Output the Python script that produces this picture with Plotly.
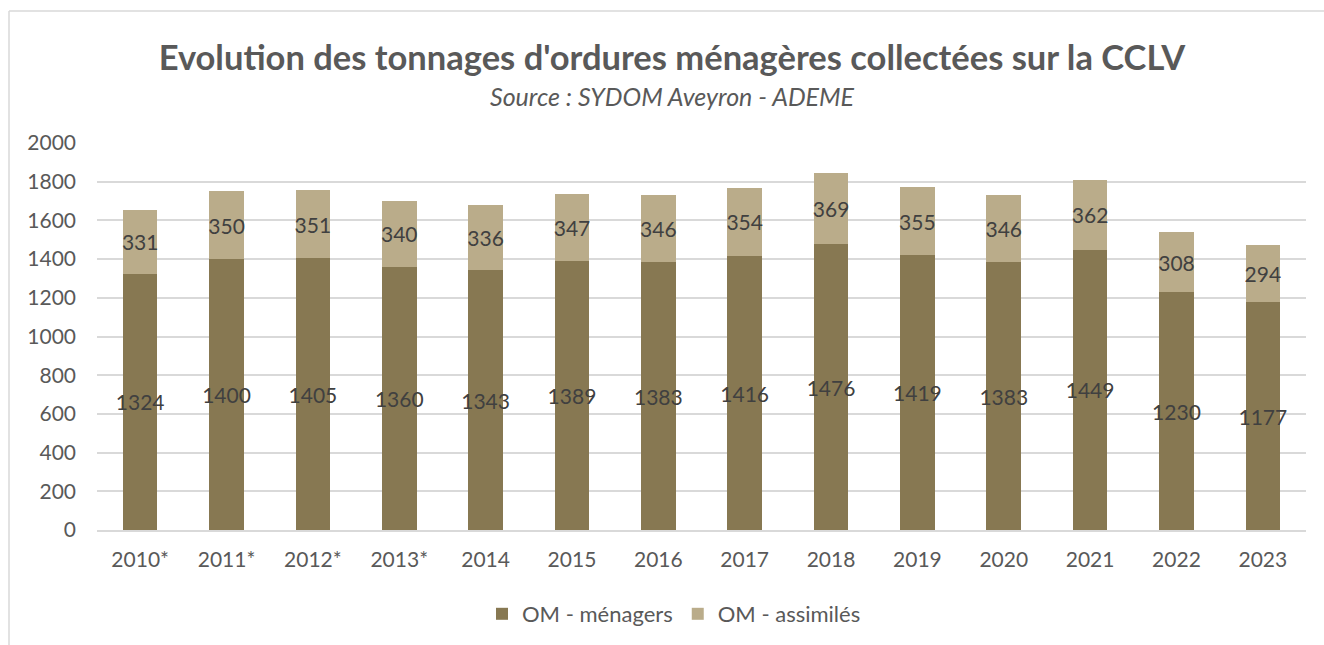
import plotly.graph_objects as go

years = ["2010*", "2011*", "2012*", "2013*", "2014", "2015", "2016", "2017",
         "2018", "2019", "2020", "2021", "2022", "2023"]
menagers = [1324, 1400, 1405, 1360, 1343, 1389, 1383, 1416, 1476, 1419, 1383, 1449, 1230, 1177]
assimiles = [331, 350, 351, 340, 336, 347, 346, 354, 369, 355, 346, 362, 308, 294]
y_ticks = [0, 200, 400, 600, 800, 1000, 1200, 1400, 1600, 1800, 2000]

FONT = "Lato"
TXT = "#595959"
LBL = "#404040"
DARK = "#877852"
LIGHT = "#BAAC8A"

W, H = 1324, 645
ML, MR, MT, MB = 97, 18, 143, 115
PW = W - ML - MR
PH = H - MT - MB

fig = go.Figure()
fig.add_trace(go.Bar(
    x=years, y=menagers, name="OM - ménagers", marker=dict(color=DARK, line=dict(width=0)),
    text=[str(v) for v in menagers], textposition="inside", insidetextanchor="middle",
    textangle=0, textfont=dict(family=FONT, size=21, color=LBL),
))
fig.add_trace(go.Bar(
    x=years, y=assimiles, name="OM - assimilés", marker=dict(color=LIGHT, line=dict(width=0)),
    text=[str(v) for v in assimiles], textposition="inside", insidetextanchor="middle",
    textangle=0, textfont=dict(family=FONT, size=21, color=LBL),
))

fig.update_layout(
    width=W, height=H,
    margin=dict(l=ML, r=MR, t=MT, b=MB, autoexpand=False),
    barmode="stack", bargap=0.6,
    paper_bgcolor="white", plot_bgcolor="white",
    font=dict(family=FONT, color=TXT),
    uniformtext=dict(minsize=21, mode="show"),
    title=dict(text="<b>Evolution des tonnages d'ordures ménagères collectées sur la CCLV</b>",
               x=672 / W, xanchor="center", y=1 - 58 / H, yanchor="middle",
               font=dict(family=FONT, size=34.5, color=TXT)),
    legend=dict(orientation="h", x=(674 - ML) / PW, xanchor="center", y=-(614 - (MT + PH)) / PH,
                yanchor="middle", font=dict(family=FONT, size=22, color=TXT),
                itemclick=False, traceorder="normal", itemwidth=30),
    xaxis=dict(type="category", showgrid=False, showline=True, linecolor="#D9D9D9",
               linewidth=1.5, ticks="", tickfont=dict(family=FONT, size=21, color=TXT),
               ticklabelstandoff=10),
    yaxis=dict(range=[0, 2000], tickvals=y_ticks, showgrid=True, gridcolor="#D9D9D9",
               gridwidth=1.5, zeroline=False, showline=False, ticks="",
               tickfont=dict(family=FONT, size=21, color=TXT), ticklabelstandoff=20),
    annotations=[dict(text="<i>Source : SYDOM Aveyron - ADEME</i>", xref="paper", yref="paper",
                      x=(672 - ML) / PW, y=(MT - 96) / PH + 1, xanchor="center", yanchor="middle",
                      showarrow=False, font=dict(family=FONT, size=25, color=TXT))],
    shapes=[
        dict(type="line", xref="paper", yref="paper", x0=(9 - ML) / PW, x1=(W - ML) / PW,
             y0=1 + (MT - 11) / PH, y1=1 + (MT - 11) / PH, line=dict(color="#D9D9D9", width=1.5)),
        dict(type="line", xref="paper", yref="paper", x0=(9 - ML) / PW, x1=(9 - ML) / PW,
             y0=1 + (MT - 11) / PH, y1=-(H - MT - PH) / PH, line=dict(color="#D9D9D9", width=1.5)),
    ],
)

fig.write_html("out.html", config={"displayModeBar": False},
               post_script="document.body.style.margin='0';document.body.style.padding='0';")
